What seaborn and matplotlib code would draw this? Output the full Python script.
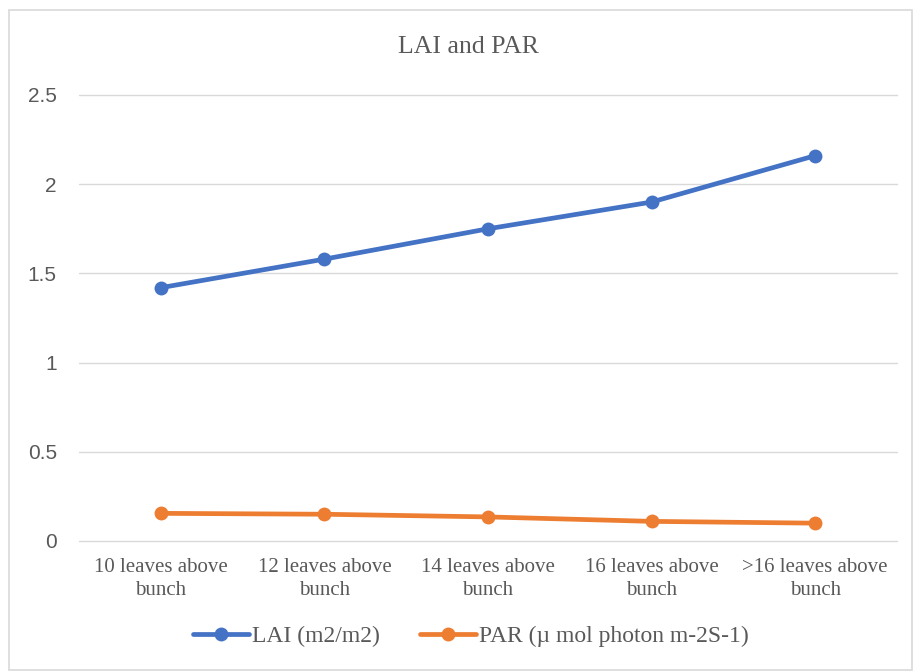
import matplotlib
matplotlib.use("Agg")
import matplotlib.pyplot as plt
import seaborn as sns
import pandas as pd
from matplotlib.patches import Rectangle
from matplotlib.lines import Line2D

categories = ["10 leaves above\nbunch", "12 leaves above\nbunch", "14 leaves above\nbunch",
              "16 leaves above\nbunch", ">16 leaves above\nbunch"]
lai = [1.42, 1.58, 1.75, 1.90, 2.16]
par = [0.155, 0.15, 0.135, 0.11, 0.10]
series_names = ["LAI (m2/m2)", "PAR (\u00b5 mol photon m-2S-1)"]
yticks = [0, 0.5, 1, 1.5, 2, 2.5]
ytick_labels = ["0", "0.5", "1", "1.5", "2", "2.5"]

df = pd.DataFrame({
    "cat": categories * 2,
    "x": list(range(len(categories))) * 2,
    "value": lai + par,
    "series": [series_names[0]] * len(lai) + [series_names[1]] * len(par),
})

sns.set_theme(style="white")
plt.rcParams["font.family"] = ["Liberation Serif", "DejaVu Serif"]

fig = plt.figure(figsize=(9.14, 6.71), dpi=100)
ax = fig.add_axes([79 / 914, 130 / 671, (897 - 79) / 914, (541 - 95) / 671])

palette = {series_names[0]: "#4472C4", series_names[1]: "#ED7D31"}
sns.lineplot(data=df, x="x", y="value", hue="series", palette=palette, ax=ax,
             marker="o", markersize=10, linewidth=3.4, markeredgewidth=0,
             sort=False, legend=False)

ax.set_xlim(-0.5, len(categories) - 0.5)
ax.set_ylim(0, 2.5)
ax.set_xticks(range(len(categories)))
ax.set_xticklabels(categories, fontsize=15, color="#595959", linespacing=1.3)
ax.set_yticks(yticks)
ax.set_yticklabels(ytick_labels, fontsize=15, color="#595959", family="Liberation Sans")
ax.tick_params(axis="x", length=0, pad=12)
ax.tick_params(axis="y", length=0, pad=16)
ax.yaxis.grid(True, color="#D9D9D9", linewidth=1)
for gl in ax.get_ygridlines():
    gl.set_clip_on(False)
ax.set_axisbelow(True)
for s in ax.spines.values():
    s.set_visible(False)
ax.set_xlabel("")
ax.set_ylabel("")

fig.text(468 / 914, 1 - 47 / 671, "LAI and PAR", ha="center", va="center",
         fontsize=18.5, color="#595959")

handles = [Line2D([], [], color=palette[n], linewidth=3.4, marker="o", markersize=10,
                  markeredgewidth=0) for n in series_names]
fig.legend(handles, series_names, loc="center", bbox_to_anchor=(471 / 914, 1 - 636 / 671),
           ncol=2, frameon=False, fontsize=17, handlelength=2.35, handletextpad=0.15,
           columnspacing=1.7, labelcolor="#595959")

fig.patches.append(Rectangle((9 / 914, 0.002), (912 - 9) / 914, 1 - 10 / 671 - 0.002,
                             transform=fig.transFigure, fill=False, edgecolor="#D9D9D9",
                             linewidth=1.2))

fig.savefig("out.png", dpi=100, facecolor="white")
